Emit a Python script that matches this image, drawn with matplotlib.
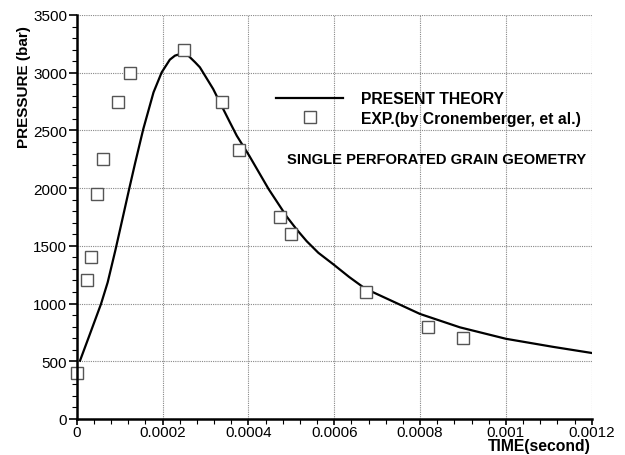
import matplotlib
matplotlib.use("Agg")
import matplotlib.pyplot as plt
from matplotlib.ticker import FixedLocator, MultipleLocator

plt.rcParams['font.family'] = ['Liberation Sans', 'DejaVu Sans']

# Theory curve
theory_t = [0.0000077, 0.0000294, 0.0000566, 0.0000722, 0.00009, 0.000107, 0.000123,
            0.000136, 0.000155, 0.000179, 0.000198, 0.000217, 0.000229, 0.000241,
            0.00026, 0.000276, 0.000287, 0.000318, 0.000334, 0.000357, 0.000373,
            0.000402, 0.000447, 0.00049, 0.000513, 0.000536, 0.000563, 0.000598,
            0.000635, 0.000672, 0.0008, 0.000893, 0.001, 0.00111, 0.0012]
theory_p = [505, 722, 996, 1184, 1460, 1740, 2005,
            2215, 2510, 2830, 3003, 3113, 3148, 3162,
            3148, 3090, 3047, 2859, 2740, 2570, 2454,
            2281, 1993, 1750, 1640, 1540, 1440, 1340,
            1230, 1130, 910, 794, 695, 625, 572]

# Experimental points
exp_t = [0.0, 0.000023, 0.000033, 0.000048, 0.000062, 0.000097, 0.000124,
         0.000249, 0.000338, 0.000379, 0.000474, 0.000499, 0.000674,
         0.000818, 0.000899]
exp_p = [400, 1200, 1400, 1950, 2250, 2750, 3000,
         3200, 2750, 2333, 1750, 1600, 1100,
         800, 700]

xticks = [0, 0.0002, 0.0004, 0.0006, 0.0008, 0.001, 0.0012]
xticklabels = ['0', '0.0002', '0.0004', '0.0006', '0.0008', '0.001', '0.0012']
yticks = [0, 500, 1000, 1500, 2000, 2500, 3000, 3500]

fig = plt.figure(figsize=(6.25, 4.56), dpi=100)
ax = fig.add_axes([76.7/625, 36/456, 515/625, 404/456])

ax.plot(theory_t, theory_p, color='black', lw=1.6, label='PRESENT THEORY', zorder=3,
        solid_joinstyle='round')
ax.plot(exp_t, exp_p, ls='none', marker='s', ms=9, mfc='white', mec='#555555',
        mew=1.0, label='EXP.(by Cronemberger, et al.)', zorder=4, clip_on=False)

ax.set_xlim(0, 0.0012)
ax.set_ylim(0, 3500)
ax.xaxis.set_major_locator(FixedLocator(xticks))
ax.set_xticklabels(xticklabels)
ax.yaxis.set_major_locator(FixedLocator(yticks))
ax.xaxis.set_minor_locator(MultipleLocator(0.00004))
ax.yaxis.set_minor_locator(MultipleLocator(100))

ax.grid(True, which='major', color='#888888', lw=0.8, ls=(0, (1, 1)), zorder=0)
for s in ['top', 'right']:
    ax.spines[s].set_visible(False)
for s in ['left', 'bottom']:
    ax.spines[s].set_linewidth(1.8)
    ax.spines[s].set_zorder(5)

ax.tick_params(axis='y', which='major', direction='out', length=6, width=1.2, labelsize=11, pad=1)
ax.tick_params(axis='y', which='minor', direction='out', length=3.8, width=0.8)
ax.tick_params(axis='x', which='major', direction='out', length=4.5, width=1.2, labelsize=11, pad=0)
ax.tick_params(axis='x', which='minor', direction='out', length=3.6, width=0.8)

leg = ax.legend(loc='upper left', bbox_to_anchor=((276 - 76.7)/515, (420 - 92)/404),
                frameon=False, handlelength=4.3, handletextpad=1.1, labelspacing=0.3,
                borderpad=0, borderaxespad=0,
                prop={'weight': 'bold', 'size': 11.3})

ax.text((287 - 76.7)/515, (420 - 160)/404, 'SINGLE PERFORATED GRAIN GEOMETRY',
        transform=ax.transAxes, ha='left', va='center', fontsize=10.6, fontweight='bold')

fig.text(24/625, 1 - 87/456, 'PRESSURE (bar)', rotation=90, ha='center', va='center',
         fontsize=11, fontweight='bold')
fig.text(591/625, 1 - 447/456, 'TIME(second)', ha='right', va='center',
         fontsize=11.3, fontweight='bold')

fig.savefig('out.png', dpi=100)
